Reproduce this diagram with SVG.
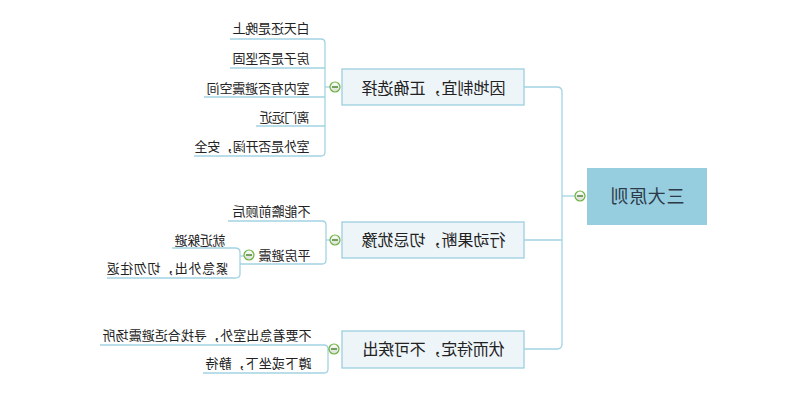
<svg xmlns="http://www.w3.org/2000/svg" width="800" height="408" viewBox="0 0 800 408">
<defs>
<linearGradient id="cg" x1="0" y1="0" x2="0" y2="1"><stop offset="0" stop-color="#ffffff"/><stop offset="1" stop-color="#d8dcd4"/></linearGradient>
<style>
.ln{fill:none;stroke:#a3d3e2;stroke-width:1.3}
.root{fill:#96cddf}
.br{fill:#eef5f9;stroke:#9ccfdf;stroke-width:1.3}
.t{font-family:"Noto Sans CJK SC","Noto Sans",sans-serif;fill:#222}
.lf{font-size:13px}
.bt{font-size:16px}
.rt{font-size:18px;fill:#2d3a48}
.cc{fill:url(#cg);stroke:#6cb33e;stroke-width:1.2}
.cm{stroke:#3f7f25;stroke-width:1.4}
</style>
</defs>
<rect width="800" height="408" fill="#ffffff"/>
<g transform="matrix(-1 0 0 1 800 0)">
<g id="connectors">
<path class="ln" d="M225,196 H238"/>
<path class="ln" d="M276,87 H243 Q238,87 238,92 V344 Q238,349 243,349 H276"/>
<path class="ln" d="M238,240 H276"/>
<path class="ln" d="M470,87 H475"/>
<path class="ln" d="M570,39 H479 Q475,39 475,43 V152 Q475,156 479,156 H606"/>
<path class="ln" d="M475,68 H570 M475,97 H596 M475,126 H544"/>
<path class="ln" d="M470,240 H474"/>
<path class="ln" d="M572,221 H478 Q474,221 474,225 V260 Q474,264 478,264 H560"/>
<path class="ln" d="M556,256 H560"/>
<path class="ln" d="M628,248 H565 Q560,248 560,252 V274 Q560,278 565,278 H693"/>
<path class="ln" d="M471,349 H472"/>
<path class="ln" d="M700,345 H476 Q472,345 472,349 V369 Q472,373 476,373 H597"/>
</g>
<g id="root">
<rect class="root" x="93" y="168" width="120" height="57"/>
<text class="t rt" x="115.5" y="202.5" textLength="74">三大原则</text>
<circle class="cc" cx="220" cy="196" r="5"/><path class="cm" d="M217,196 H223"/>
</g>
<g id="b1">
<rect class="br" x="276" y="69" width="182" height="36"/>
<text class="t bt" x="294.5" y="93.5" textLength="144">因地制宜，正确选择</text>
<circle class="cc" cx="465" cy="87" r="5"/><path class="cm" d="M462,87 H468"/>
</g>
<g id="b2">
<rect class="br" x="276" y="222" width="182" height="36"/>
<text class="t bt" x="294.5" y="246" textLength="144">行动果断，切忌犹豫</text>
<circle class="cc" cx="465" cy="240" r="5"/><path class="cm" d="M462,240 H468"/>
</g>
<g id="b3">
<rect class="br" x="276" y="331" width="182" height="37"/>
<text class="t bt" x="295.5" y="355" textLength="142">伏而待定，不可疾出</text>
<circle class="cc" cx="466" cy="349" r="5"/><path class="cm" d="M463,349 H469"/>
</g>
<g id="l1"><text class="t lf" x="490.5" y="33" textLength="77">白天还是晚上</text></g>
<g id="l2"><text class="t lf" x="490.5" y="62.5" textLength="77">房子是否坚固</text></g>
<g id="l3"><text class="t lf" x="490.5" y="92.5" textLength="103">室内有否避震空间</text></g>
<g id="l4"><text class="t lf" x="490.5" y="121.5" textLength="50">离门远近</text></g>
<g id="l5"><text class="t lf" x="490.5" y="150.5" textLength="115">室外是否开阔，安全</text></g>
<g id="l6"><text class="t lf" x="489.5" y="215.5" textLength="78">不能瞻前顾后</text></g>
<g id="l7">
<text class="t lf" x="489.5" y="259.5" textLength="52">平房避震</text>
<circle class="cc" cx="551" cy="255" r="5"/><path class="cm" d="M548,255 H554"/>
</g>
<g id="l8"><text class="t lf" x="574.5" y="244.5" textLength="51">就近躲避</text></g>
<g id="l9"><text class="t lf" x="571.5" y="272.5" textLength="122">紧急外出，切勿往返</text></g>
<g id="l10"><text class="t lf" x="488.5" y="339.5" textLength="209">不要着急出室外，寻找合适避震场所</text></g>
<g id="l11"><text class="t lf" x="488.5" y="367.5" textLength="106">蹲下或坐下，静待</text></g>
</g>
</svg>
